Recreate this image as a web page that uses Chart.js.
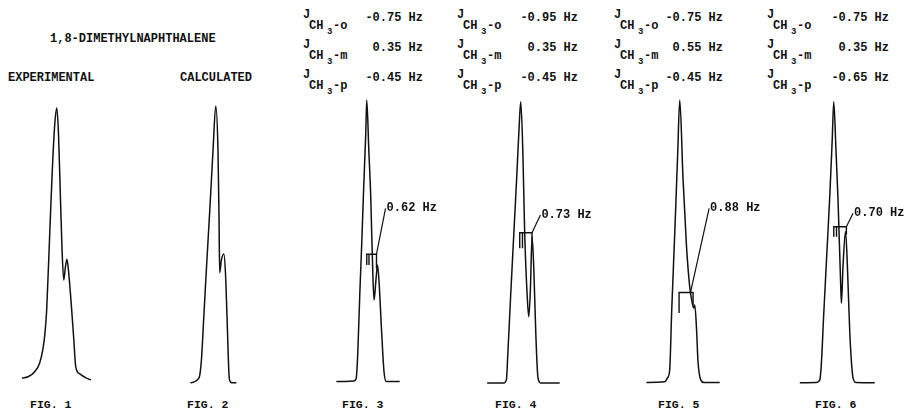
<!DOCTYPE html>
<html>
<head>
<meta charset="utf-8">
<title>1,8-Dimethylnaphthalene</title>
<script src="https://cdn.jsdelivr.net/npm/chart.js@4.4.1/dist/chart.umd.min.js"></script>
<style>
    body { margin: 0; background: #fff; }
    #page {
        position: relative; width: 905px; height: 412px; overflow: hidden; background: #fff;
        font-family: "Liberation Mono", "DejaVu Sans Mono", monospace; font-weight: bold; color: #111;
    }
    .txt { position: absolute; white-space: pre; font-size: 12px; line-height: 12px; }
    .small { font-size: 9px; line-height: 9px; }
    canvas { position: absolute; }
</style>
</head>
<body>
<div id="page"></div>
<script>
// methyl resonance traces: offset from main peak (Hz) and intensity (% of tallest peak)
const fig1Hz  = [-2.03, -1.68, -1.29, -1.00, -0.82, -0.70, -0.59, -0.41, -0.26, -0.12, 0, 0.10, 0.22, 0.31, 0.41, 0.51, 0.60, 0.70, 0.86, 1.00, 1.11, 1.35, 1.74, 2.00];
const fig1Int = [1.7, 2.2, 4.0, 7.1, 11.7, 17.0, 25.8, 53.0, 75.3, 91.2, 97.2, 88.3, 64.7, 47.0, 36.4, 41.1, 43.7, 38.9, 27.0, 15.2, 5.8, 3.2, 1.7, 1.1];

const fig2Hz  = [-1.48, -0.98, -0.84, -0.70, -0.54, -0.35, -0.16, 0, 0.13, 0.19, 0.23, 0.33, 0.47, 0.57, 0.66, 0.78, 0.84, 0.92, 1.21];
const fig2Int = [0.1, 1.8, 8.1, 23.4, 41.1, 61.1, 82.3, 97.9, 82.3, 58.8, 39.0, 43.5, 45.6, 38.8, 23.4, 2.5, 0.6, 0.1, 0.1];

const fig3Hz  = [-1.78, -0.76, -0.62, -0.53, -0.41, -0.29, -0.18, -0.06, 0, 0.12, 0.23, 0.37, 0.43, 0.53, 0.63, 0.72, 0.86, 1.01, 1.15, 1.93];
const fig3Int = [0.5, 0.7, 1.6, 10.0, 31.0, 50.0, 69.0, 88.0, 100, 82.3, 66.4, 35.8, 29.3, 35.8, 41.7, 35.8, 19.4, 4.0, 0.5, 0.5];

const fig4Hz  = [-1.97, -1.00, -0.84, -0.76, -0.59, -0.41, -0.23, -0.09, 0, 0.12, 0.23, 0.39, 0.47, 0.57, 0.66, 0.76, 0.88, 1.01, 1.17, 2.28];
const fig4Int = [0, 0, 1.1, 9.9, 31.1, 52.3, 73.5, 91.2, 99.4, 82.3, 53.0, 29.3, 23.4, 34.0, 51.7, 41.1, 17.7, 1.8, 0, 0];

const fig5Hz  = [-1.95, -0.88, -0.72, -0.59, -0.47, -0.29, -0.12, 0, 0.19, 0.39, 0.59, 0.72, 0.82, 0.88, 0.98, 1.07, 1.23, 1.41, 2.34];
const fig5Int = [0.2, 0.4, 1.8, 4.6, 25.8, 53.4, 81.3, 100, 72.4, 48.8, 33.6, 28.7, 26.5, 27.6, 19.4, 7.5, 1.1, 0.2, 0.2];

const fig6Hz  = [-1.99, -1.00, -0.82, -0.73, -0.59, -0.41, -0.23, -0.09, 0, 0.13, 0.25, 0.41, 0.45, 0.54, 0.69, 0.80, 0.94, 1.13, 1.29, 2.40];
const fig6Int = [0.1, 0.2, 1.1, 6.4, 24.0, 45.2, 66.4, 85.9, 99.4, 82.3, 64.7, 34.0, 28.2, 41.1, 53.5, 41.1, 17.7, 1.8, 0.2, 0.1];

// coupling constants used for the calculated spectra (figs 3-6)
const jOrtho = [-0.75, -0.95, -0.75, -0.75];
const jMeta  = [0.35, 0.35, 0.55, 0.35];
const jPara  = [-0.45, -0.45, -0.45, -0.65];

// measured splitting brackets (figs 3-6)
const splitHz        = [0.62, 0.73, 0.88, 0.70];
const bracketFrom    = [0, -0.06, -0.04, 0];
const bracketTo      = [0.57, 0.66, 0.78, 0.74];
const bracketTick    = [0.13, 0.10, null, 0.16];
const bracketLevel   = [45.5, 53.1, 32.0, 55.2];
const bracketLeftEnd = [41.7, 47.6, 24.7, 51.7];
const bracketRightEnd = [40.5, 50.0, 27.6, 52.5];
const leaderFrom     = [0.57, 0.66, 0.63, 0.74];
const leaderToHz     = [1.10, 1.15, 1.72, 1.13];
const leaderToInt    = [61.7, 59.4, 61.7, 60.0];

const figNames = ['FIG. 1', 'FIG. 2', 'FIG. 3', 'FIG. 4', 'FIG. 5', 'FIG. 6'];

// layout
const peakLeft = [57, 216, 367, 521, 680, 834];
const figLabelLeft = [30, 187, 342, 495, 658, 815];
const jLeft = [303, 457, 614, 767];
const jValueRight = [423, 578, 723, 889];
const jRowY = [18, 48, 78];

const page = document.getElementById('page');

function addText(str, left, top, cls) {
    const d = document.createElement('div');
    d.className = cls || 'txt';
    d.textContent = str;
    d.style.left = left + 'px';
    d.style.top = top + 'px';
    page.appendChild(d);
    return d;
}

addText('1,8-DIMETHYLNAPHTHALENE', 50, 33);
addText('EXPERIMENTAL', 8, 72);
addText('CALCULATED', 180, 72);

figNames.forEach((name, i) => {
    const d = addText(name, figLabelLeft[i], 399);
    d.style.fontSize = '11.5px';
});

function fmtJ(v) {
    return (v < 0 ? '-' : ' ') + Math.abs(v).toFixed(2) + ' Hz';
}

const jSets = [jOrtho, jMeta, jPara];
const jNames = ['o', 'm', 'p'];
jLeft.forEach((x, k) => {
    jSets.forEach((set, i) => {
        const r = jRowY[i];
        addText('J', x, r - 9);
        addText('CH', x + 6, r + 2);
        addText('3', x + 24, r + 10, 'txt small');
        addText('-' + jNames[i], x + 30, r + 2);
        const v = addText(fmtJ(set[k]), 0, r - 6);
        v.style.left = '';
        v.style.right = (905 - jValueRight[k]) + 'px';
    });
});

const HZ_MIN = -3.5, HZ_MAX = 4.7;
const CANVAS_W = 140, CANVAS_H = 293;

function pts(xs, ys) {
    return xs.map((x, i) => ({ x: x, y: ys[i] }));
}

const hzLabel = {
    id: 'hzLabel',
    afterDatasetsDraw(chart, args, opts) {
        if (opts.k == null) return;
        const k = opts.k;
        const ctx = chart.ctx;
        const x = chart.scales.x.getPixelForValue(leaderToHz[k]);
        const y = chart.scales.y.getPixelForValue(leaderToInt[k]);
        ctx.save();
        ctx.fillStyle = '#111';
        ctx.font = 'bold 12px "Liberation Mono", monospace';
        ctx.textBaseline = 'middle';
        ctx.fillText(splitHz[k].toFixed(2) + ' Hz', x + 1, y);
        ctx.restore();
    }
};

const traces = [[fig1Hz, fig1Int], [fig2Hz, fig2Int], [fig3Hz, fig3Int], [fig4Hz, fig4Int], [fig5Hz, fig5Int], [fig6Hz, fig6Int]];

traces.forEach(([xs, ys], f) => {
    const cv = document.createElement('canvas');
    cv.width = CANVAS_W;
    cv.height = CANVAS_H;
    cv.style.left = (peakLeft[f] - 60) + 'px';
    cv.style.top = '94px';
    page.appendChild(cv);

    const line = { borderColor: '#111', pointRadius: 0, fill: false, clip: false };
    const datasets = [Object.assign({}, line, {
        data: pts(xs, ys), borderWidth: 1.5, cubicInterpolationMode: 'monotone'
    })];

    const k = f - 2;
    if (k >= 0) {
        const b = Object.assign({}, line, { borderWidth: 1.4, tension: 0 });
        datasets.push(Object.assign({}, b, { data: [
            { x: bracketFrom[k], y: bracketLeftEnd[k] },
            { x: bracketFrom[k], y: bracketLevel[k] },
            { x: bracketTo[k], y: bracketLevel[k] },
            { x: bracketTo[k], y: bracketRightEnd[k] }
        ] }));
        if (bracketTick[k] != null) {
            datasets.push(Object.assign({}, b, { data: [
                { x: bracketTick[k], y: bracketLevel[k] },
                { x: bracketTick[k], y: bracketLeftEnd[k] }
            ] }));
        }
        datasets.push(Object.assign({}, b, { borderWidth: 1.2, data: [
            { x: leaderFrom[k], y: bracketLevel[k] },
            { x: leaderToHz[k], y: leaderToInt[k] }
        ] }));
    }

    new Chart(cv, {
        type: 'line',
        data: { datasets: datasets },
        options: {
            responsive: false,
            animation: false,
            events: [],
            layout: { padding: { top: 6, bottom: 4, left: 0, right: 0 } },
            plugins: {
                legend: { display: false },
                tooltip: { enabled: false },
                hzLabel: { k: k >= 0 ? k : null }
            },
            scales: {
                x: { type: 'linear', min: HZ_MIN, max: HZ_MAX, display: false },
                y: { min: 0, max: 100, display: false }
            }
        },
        plugins: [hzLabel]
    });
});
</script>
</body>
</html>
